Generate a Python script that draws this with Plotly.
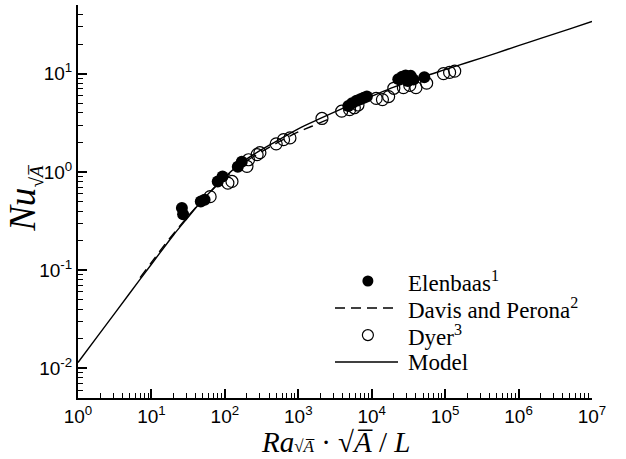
import plotly.graph_objects as go

# Model correlation
model_x = [1, 2, 5, 10, 20, 30, 50, 100, 200, 500, 1e3, 2e3, 5e3, 1e4, 2e4,
           5e4, 1e5, 2e5, 5e5, 1e6, 2e6, 5e6, 1e7]
model_y = [0.0115, 0.023, 0.0575, 0.115, 0.228, 0.33, 0.52, 0.89, 1.36, 2.05,
           2.75, 3.5, 4.75, 5.9, 7.3, 9.3, 11.0, 13.0, 16.2, 19.3, 22.9, 28.6, 34.0]

# Davis and Perona correlation
davis_x = [7, 10, 15, 20, 30, 50, 100, 200, 500, 1000, 1500, 2500]
davis_y = [0.084, 0.12, 0.18, 0.235, 0.34, 0.52, 0.87, 1.3, 1.95, 2.55, 2.9, 3.4]

# Elenbaas data
elen_x = [26, 27, 47, 53, 80, 93, 150, 170, 4800, 5400, 6200, 7000, 7800, 8600,
          23000, 26000, 29000, 31000, 34000, 37000, 52000]
elen_y = [0.43, 0.37, 0.50, 0.52, 0.80, 0.90, 1.13, 1.27, 4.7, 5.0, 5.3, 5.5, 5.7,
          5.85, 8.8, 9.3, 9.6, 8.4, 9.5, 8.7, 9.2]

# Dyer data
dyer_x = [63, 110, 125, 200, 210, 275, 300, 500, 630, 770, 2100, 3900, 5000, 5800,
          6500, 11500, 14000, 17000, 20000, 27000, 33000, 40000, 56000, 95000,
          115000, 135000]
dyer_y = [0.56, 0.77, 0.80, 1.14, 1.33, 1.50, 1.57, 1.93, 2.13, 2.22, 3.5, 4.15,
          4.3, 4.5, 4.8, 5.6, 5.45, 5.85, 7.1, 7.2, 7.6, 7.2, 8.0, 10.0, 10.3, 10.6]

x_major = [10 ** k for k in range(0, 8)]
x_major_text = ["10<sup>%d</sup>" % k for k in range(0, 8)]
y_major = [10 ** k for k in range(-2, 2)]
y_major_text = ["10<sup>%d</sup>" % k for k in range(-2, 2)]

legend_names = ["Elenbaas<sup>1</sup>", "Davis and Perona<sup>2</sup>",
                "Dyer<sup>3</sup>", "Model"]

SERIF = "Liberation Serif, Times New Roman, serif"
SANS = "Liberation Sans, Arial, Helvetica, sans-serif"

x_minor = [m * 10 ** k for k in range(0, 7) for m in range(2, 10)]
y_minor = [m * 10.0 ** k for k in range(-3, 2) for m in range(2, 10)]

fig = go.Figure()
fig.add_trace(go.Scatter(x=model_x, y=model_y, mode="lines",
                         line=dict(color="black", width=1.4, shape="spline",
                                   smoothing=0.8),
                         name="Model", showlegend=False))
fig.add_trace(go.Scatter(x=davis_x, y=davis_y, mode="lines",
                         line=dict(color="black", width=1.4, dash="10px,6px",
                                   shape="spline", smoothing=0.8),
                         name="Davis and Perona", showlegend=False))
fig.add_trace(go.Scatter(x=dyer_x, y=dyer_y, mode="markers",
                         marker=dict(size=12, color="rgba(0,0,0,0)",
                                     line=dict(color="black", width=1.2)),
                         name="Dyer", showlegend=False))
fig.add_trace(go.Scatter(x=elen_x, y=elen_y, mode="markers",
                         marker=dict(size=12, color="black",
                                     line=dict(color="black", width=0)),
                         name="Elenbaas", showlegend=False))

axis_common = dict(
    type="log", showgrid=False, zeroline=False, showline=True,
    linecolor="black", linewidth=2, mirror=False,
    ticks="inside", ticklen=9, tickwidth=2, tickcolor="black",
    tickmode="array", tickfont=dict(family=SANS, size=19, color="black"),
)

fig.update_xaxes(range=[0, 7], tickvals=x_major, ticktext=x_major_text,
                 minor=dict(ticks="inside", ticklen=5, tickwidth=1,
                            tickcolor="black", tickvals=x_minor),
                 **axis_common)
fig.update_yaxes(range=[-2.301, 1.699], tickvals=y_major, ticktext=y_major_text,
                 minor=dict(ticks="inside", ticklen=5, tickwidth=1,
                            tickcolor="black", tickvals=y_minor),
                 **axis_common)

# Legend drawn by hand so the line samples have their full length
lx0, lx1, lmark, ltext = 0.5, 0.6226, 0.564, 0.638
rows = [0.2977, 0.229, 0.160, 0.0916]
shapes = [
    dict(type="circle", xref="paper", yref="paper", xsizemode="pixel",
         ysizemode="pixel", xanchor=lmark, yanchor=rows[0],
         x0=-5.5, x1=5.5, y0=-5.5, y1=5.5, fillcolor="black",
         line=dict(color="black", width=0)),
    dict(type="line", xref="paper", yref="paper", x0=lx0, x1=lx1,
         y0=rows[1], y1=rows[1], line=dict(color="black", width=1.4,
                                           dash="10px,6px")),
    dict(type="circle", xref="paper", yref="paper", xsizemode="pixel",
         ysizemode="pixel", xanchor=lmark, yanchor=rows[2],
         x0=-5.5, x1=5.5, y0=-5.5, y1=5.5, fillcolor="rgba(0,0,0,0)",
         line=dict(color="black", width=1.2)),
    dict(type="line", xref="paper", yref="paper", x0=lx0, x1=lx1,
         y0=rows[3], y1=rows[3], line=dict(color="black", width=1.4)),
]
annotations = [
    dict(text=name, xref="paper", yref="paper", x=ltext, y=yy,
         xanchor="left", yanchor="middle", showarrow=False,
         font=dict(family=SERIF, size=23, color="black"))
    for name, yy in zip(legend_names, rows)
]

# square root of A with a combining overline over the radicand
sqrtA = "√<i>A\u0305</i>"
annotations.append(dict(
    text="<i>Ra</i><span style='font-size:17px'>" + sqrtA + "</span>"
         " · " + sqrtA + " / <i>L</i>",
    xref="paper", yref="paper", x=0.5, y=-0.111, xanchor="center",
    yanchor="middle", showarrow=False,
    font=dict(family=SERIF, size=29, color="black")))
annotations.append(dict(
    text="<i>Nu</i><sub><span style='font-size:19px'>" + sqrtA + "</span></sub>",
    xref="paper", yref="paper", x=-0.103, y=0.507, xanchor="center",
    yanchor="middle", textangle=-90, showarrow=False,
    font=dict(family=SERIF, size=37, color="black")))

fig.update_layout(
    width=626, height=459,
    margin=dict(l=78, r=34, t=5, b=61),
    paper_bgcolor="white", plot_bgcolor="white",
    showlegend=False, shapes=shapes, annotations=annotations,
)

fig.write_html("out.html")
